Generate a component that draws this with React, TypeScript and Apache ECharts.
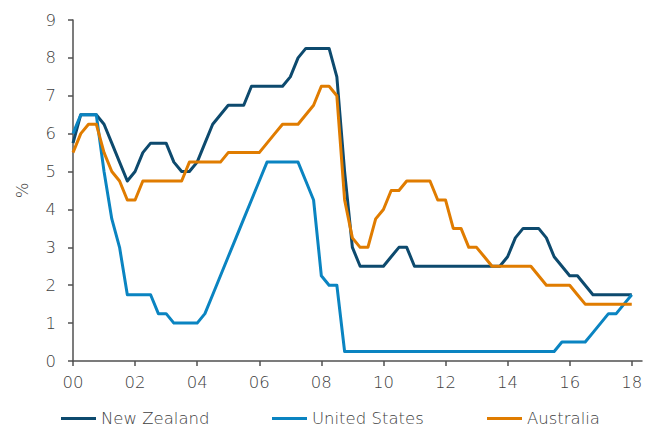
import React, { useEffect, useRef } from "react";
import * as echarts from "echarts";

// Policy rates by quarter, 2000Q1 to 2018Q1 (%)
const START_YEAR = 2000;
const quarters: string[] = Array.from({ length: 73 }, (_, i) => `${START_YEAR + Math.floor(i / 4)}Q${(i % 4) + 1}`);

const newZealand = [
  5.75, 6.5, 6.5, 6.5,
  6.25, 5.75, 5.25, 4.75,
  5.0, 5.5, 5.75, 5.75,
  5.75, 5.25, 5.0, 5.0,
  5.25, 5.75, 6.25, 6.5,
  6.75, 6.75, 6.75, 7.25,
  7.25, 7.25, 7.25, 7.25,
  7.5, 8.0, 8.25, 8.25,
  8.25, 8.25, 7.5, 5.0,
  3.0, 2.5, 2.5, 2.5,
  2.5, 2.75, 3.0, 3.0,
  2.5, 2.5, 2.5, 2.5,
  2.5, 2.5, 2.5, 2.5,
  2.5, 2.5, 2.5, 2.5,
  2.75, 3.25, 3.5, 3.5,
  3.5, 3.25, 2.75, 2.5,
  2.25, 2.25, 2.0, 1.75,
  1.75, 1.75, 1.75, 1.75,
  1.75,
];

const unitedStates = [
  6.0, 6.5, 6.5, 6.5,
  5.0, 3.75, 3.0, 1.75,
  1.75, 1.75, 1.75, 1.25,
  1.25, 1.0, 1.0, 1.0,
  1.0, 1.25, 1.75, 2.25,
  2.75, 3.25, 3.75, 4.25,
  4.75, 5.25, 5.25, 5.25,
  5.25, 5.25, 4.75, 4.25,
  2.25, 2.0, 2.0, 0.25,
  0.25, 0.25, 0.25, 0.25,
  0.25, 0.25, 0.25, 0.25,
  0.25, 0.25, 0.25, 0.25,
  0.25, 0.25, 0.25, 0.25,
  0.25, 0.25, 0.25, 0.25,
  0.25, 0.25, 0.25, 0.25,
  0.25, 0.25, 0.25, 0.5,
  0.5, 0.5, 0.5, 0.75,
  1.0, 1.25, 1.25, 1.5,
  1.75,
];

const australia = [
  5.5, 6.0, 6.25, 6.25,
  5.5, 5.0, 4.75, 4.25,
  4.25, 4.75, 4.75, 4.75,
  4.75, 4.75, 4.75, 5.25,
  5.25, 5.25, 5.25, 5.25,
  5.5, 5.5, 5.5, 5.5,
  5.5, 5.75, 6.0, 6.25,
  6.25, 6.25, 6.5, 6.75,
  7.25, 7.25, 7.0, 4.25,
  3.25, 3.0, 3.0, 3.75,
  4.0, 4.5, 4.5, 4.75,
  4.75, 4.75, 4.75, 4.25,
  4.25, 3.5, 3.5, 3.0,
  3.0, 2.75, 2.5, 2.5,
  2.5, 2.5, 2.5, 2.5,
  2.25, 2.0, 2.0, 2.0,
  2.0, 1.75, 1.5, 1.5,
  1.5, 1.5, 1.5, 1.5,
  1.5,
];

const yearTicks = [2000, 2002, 2004, 2006, 2008, 2010, 2012, 2014, 2016, 2018];

const seriesDefs = [
  { name: "New Zealand", values: newZealand, color: "#0d4a6e" },
  { name: "United States", values: unitedStates, color: "#0a84c1" },
  { name: "Australia", values: australia, color: "#e07c00" },
];

const FONT = "'DejaVu Sans', 'Noto Sans', sans-serif";
const FONT_SIZE = 16.5;
const FONT_WEIGHT = 300;
const TEXT_COLOR = "#404040";
const AXIS_COLOR = "#505050";

function quarterToYear(q: string): number {
  const [y, n] = q.split("Q");
  return Number(y) + (Number(n) - 1) / 4;
}

export default function App() {
  const ref = useRef<HTMLDivElement>(null);

  useEffect(() => {
    if (!ref.current) return;
    document.body.style.margin = "0";
    const chart = echarts.init(ref.current, undefined, { renderer: "svg" });
    const legendLefts = [61, 272, 487];
    const textStyle = {
      fontFamily: FONT,
      fontSize: FONT_SIZE,
      fontWeight: FONT_WEIGHT,
      color: TEXT_COLOR,
    };
    chart.setOption({
      animation: false,
      textStyle: { fontFamily: FONT },
      grid: { left: 73, right: 10, top: 20, bottom: 66, containLabel: false },
      legend: seriesDefs.map((s, i) => ({
        data: [s.name],
        left: legendLefts[i],
        top: 410,
        icon: "rect",
        itemWidth: 35,
        itemHeight: 3,
        padding: 0,
        textStyle,
      })),
      xAxis: {
        type: "value",
        min: 2000,
        max: 2018.33,
        interval: 2,
        splitLine: { show: false },
        axisLine: { show: true, lineStyle: { color: AXIS_COLOR, width: 1.5 } },
        axisTick: {
          show: true,
          length: 5,
          customValues: yearTicks,
          lineStyle: { color: AXIS_COLOR, width: 1.5 },
        },
        axisLabel: {
          customValues: yearTicks,
          margin: 13,
          ...textStyle,
          formatter: (v: number) => String(Math.round(v) % 100).padStart(2, "0"),
        },
      },
      yAxis: {
        type: "value",
        min: 0,
        max: 9,
        interval: 1,
        name: "%",
        nameLocation: "middle",
        nameRotate: 90,
        nameGap: 42,
        nameTextStyle: textStyle,
        splitLine: { show: false },
        axisLine: { show: true, lineStyle: { color: AXIS_COLOR, width: 1.5 } },
        axisTick: { show: true, length: 5, lineStyle: { color: AXIS_COLOR, width: 1.5 } },
        axisLabel: { margin: 17, ...textStyle },
      },
      series: seriesDefs.map((s) => ({
        name: s.name,
        type: "line",
        data: quarters.map((q, i) => [quarterToYear(q), s.values[i]]),
        showSymbol: false,
        symbol: "none",
        lineStyle: { color: s.color, width: 3, join: "round" },
        itemStyle: { color: s.color },
      })),
    });
    return () => chart.dispose();
  }, []);

  return <div ref={ref} style={{ width: 652, height: 427 }} />;
}
